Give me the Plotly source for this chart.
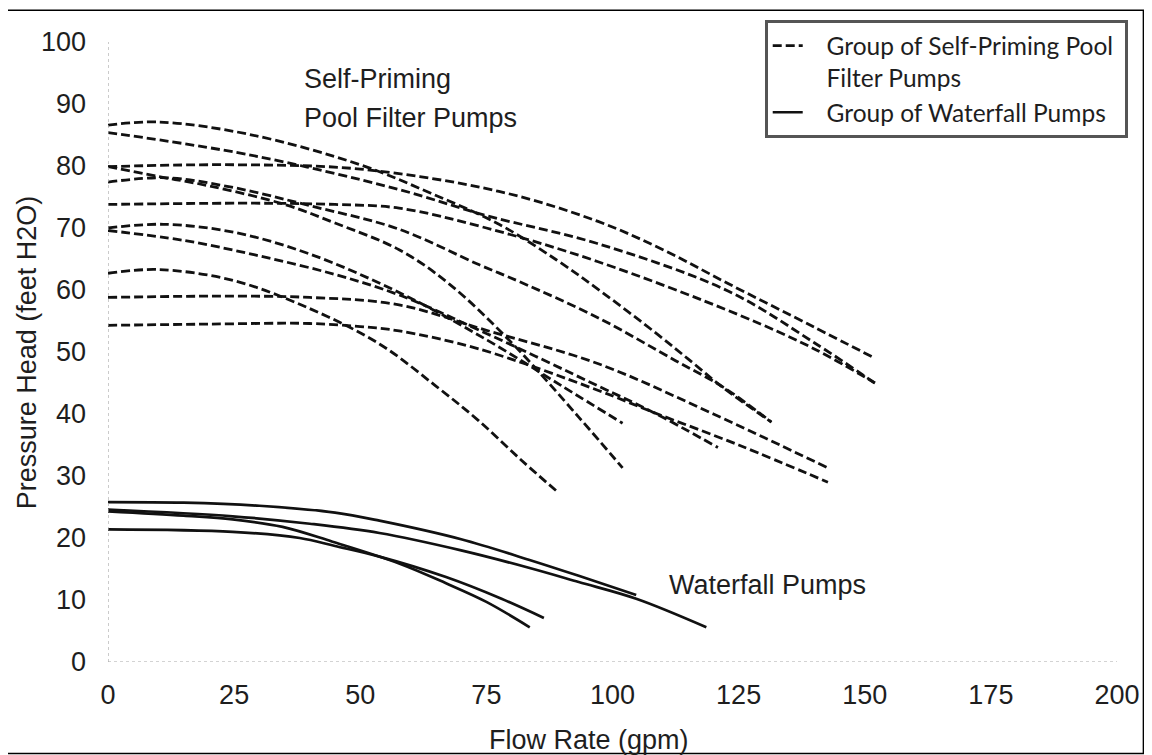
import plotly.graph_objects as go

# ---- Data (flow rate gpm, pressure head ft H2O) ----
x_ticks = [0, 25, 50, 75, 100, 125, 150, 175, 200]
y_ticks = [0, 10, 20, 30, 40, 50, 60, 70, 80, 90, 100]

# Self-priming pool filter pumps (dashed)
sp1_q = [0, 10, 28, 50, 64, 77.5, 89, 98, 109, 116, 122, 131.5]
sp1_h = [86.6, 87.1, 85.1, 80.2, 75.6, 70.6, 64.8, 59.6, 52.8, 48.2, 44.2, 38.7]
sp2_q = [0, 25, 50, 77.5, 97, 110, 123, 140, 152]
sp2_h = [79.9, 80.2, 79.5, 75.9, 71.1, 66.5, 61, 54, 49]
sp3_q = [0, 28, 57.7, 75, 97, 123, 140, 152]
sp3_h = [85.4, 81.8, 76.2, 72, 67.5, 59.8, 51.5, 45]
sp4_q = [0, 28, 45, 57.7, 75, 97, 125, 140, 152]
sp4_h = [73.8, 74, 73.8, 73.2, 70, 64.6, 56, 50.5, 45]
sp5_q = [0, 11.6, 25, 40, 57.7, 73.5, 81.4, 97.2, 112.5, 122, 131.5]
sp5_h = [77.4, 78.1, 76.5, 73.6, 69.8, 64.1, 61.4, 55.5, 48.6, 44.3, 38.7]
sp6_q = [0, 10, 20, 35, 45, 57.7, 67.6, 80, 93.3, 102]
sp6_h = [79.9, 78.3, 76.8, 73.8, 70.8, 66.5, 61.0, 51.5, 39.5, 31.3]
sp7_q = [0, 11, 25, 40, 57.7, 75, 90, 102]
sp7_h = [70.0, 70.6, 69.3, 65.8, 59.6, 52, 44.5, 38.5]
sp8_q = [0, 15, 30, 45, 57.7, 75, 97.2, 108, 120.9]
sp8_h = [69.6, 68, 65.5, 62.5, 59.2, 53, 44.5, 40.3, 34.6]
sp9_q = [0, 10, 25, 40, 53.8, 65, 73.5, 82, 89.3]
sp9_h = [62.7, 63.3, 61.5, 57, 51.3, 44.5, 38.9, 32.5, 27.3]
sp10_q = [0, 20, 40, 57.7, 75, 97.2, 120, 142.7]
sp10_h = [58.8, 59, 58.8, 57.6, 53.5, 48.1, 40, 31.3]
sp11_q = [0, 20, 40, 50, 57.7, 73.5, 97.2, 108, 125, 142.7]
sp11_h = [54.3, 54.5, 54.6, 54.1, 53.4, 50.5, 43.8, 40.3, 35, 29]

# Waterfall pumps (solid)
wf1_q = [0, 15, 30, 45, 53.8, 70, 83.4, 93.3, 104.7]
wf1_h = [25.8, 25.7, 25.2, 24.1, 22.8, 19.8, 16.5, 13.9, 10.8]
wf2_q = [0, 24.7, 40, 53.8, 70, 83.4, 93.3, 104.7, 118.6]
wf2_h = [24.6, 23.5, 22.3, 20.8, 18, 15.2, 12.9, 10.2, 5.6]
wf3_q = [0, 15, 24.7, 34.6, 44.5, 57.7, 67, 75, 83.6]
wf3_h = [24.3, 23.6, 23.0, 21.8, 19.4, 15.9, 12.7, 9.7, 5.6]
wf4_q = [0, 24.7, 38, 45, 53.8, 67, 78, 86.4]
wf4_h = [21.4, 21.0, 20.0, 18.7, 17.0, 13.7, 10.2, 7.1]

sp_curves = [(sp1_q, sp1_h), (sp2_q, sp2_h), (sp3_q, sp3_h), (sp4_q, sp4_h),
             (sp5_q, sp5_h), (sp6_q, sp6_h), (sp7_q, sp7_h), (sp8_q, sp8_h),
             (sp9_q, sp9_h), (sp10_q, sp10_h), (sp11_q, sp11_h)]
wf_curves = [(wf1_q, wf1_h), (wf2_q, wf2_h), (wf3_q, wf3_h), (wf4_q, wf4_h)]

pad = "\u00a0" * 3
sp_name = pad + "Group of Self-Priming Pool\u00a0<br>" + pad + "Filter Pumps"
wf_name = pad + "Group of Waterfall Pumps"

fig = go.Figure()
for i, (q, h) in enumerate(sp_curves):
    fig.add_trace(go.Scatter(
        x=q, y=h, mode="lines", name=sp_name, legendgroup="sp",
        showlegend=(i == 0), hoverinfo="skip",
        line=dict(color="#111111", width=2.8, dash="9px,4px",
                  shape="spline", smoothing=1.0)))
for i, (q, h) in enumerate(wf_curves):
    fig.add_trace(go.Scatter(
        x=q, y=h, mode="lines", name=wf_name, legendgroup="wf",
        showlegend=(i == 0), hoverinfo="skip",
        line=dict(color="#111111", width=2.7, shape="spline", smoothing=1.0)))

# The page body adds an 8 px offset; positions below are given in
# reference-image pixels and converted to figure coordinates.
OFF = 8
W, H = 1152 - OFF, 755 - OFF
L = 108 - OFF
T = 38 - OFF
R = W - (1120.5 - OFF)
B = H - (662 - OFF)
pw, ph = W - L - R, H - T - B


def px(xp):
    return (xp - OFF - L) / pw


def py(yp):
    return (H - B - (yp - OFF)) / ph


font_main = "Liberation Sans, Arial, sans-serif"
txt_col = "#1e1e1e"
fs = 27

fig.update_layout(
    width=W, height=H,
    margin=dict(l=L, r=R, t=T, b=B, pad=0),
    paper_bgcolor="white", plot_bgcolor="white",
    font=dict(family=font_main, size=fs, color=txt_col),
    showlegend=True,
    legend=dict(
        x=px(767), y=py(16), xanchor="left", yanchor="top",
        bgcolor="white", bordercolor="#555555", borderwidth=3,
        font=dict(family="Lato, Open Sans, sans-serif", size=24.5, color=txt_col),
        itemwidth=30, valign="top", tracegroupgap=0, traceorder="normal"),
    xaxis=dict(range=[0, 200], tickvals=x_ticks, ticktext=[str(v) for v in x_ticks],
               showgrid=False, zeroline=False, showline=False, ticks="",
               tickfont=dict(size=fs, color=txt_col, family=font_main),
               ticklabelstandoff=14),
    yaxis=dict(range=[0, 100], tickvals=y_ticks, ticktext=[str(v) for v in y_ticks],
               showgrid=False, zeroline=False, showline=False, ticks="",
               tickfont=dict(size=fs, color=txt_col, family=font_main),
               ticklabelstandoff=21),
    shapes=[
        dict(type="line", xref="x", yref="y", x0=0, x1=200, y0=0, y1=0,
             line=dict(color="#a8a8a8", width=1.2, dash="dot")),
        dict(type="line", xref="x", yref="y", x0=0, x1=0, y0=0, y1=100,
             line=dict(color="#a8a8a8", width=1.2, dash="dot")),
        dict(type="rect", xref="paper", yref="paper",
             x0=px(6), x1=px(1147), y0=py(754), y1=py(6),
             line=dict(color="#000000", width=1.5)),
    ],
    annotations=[
        dict(text="Pressure Head (feet H2O)", xref="paper", yref="paper",
             x=px(27), y=py(350), textangle=-90, showarrow=False,
             xanchor="center", yanchor="middle", font=dict(size=fs)),
        dict(text="Flow Rate (gpm)", xref="paper", yref="paper",
             x=px(591), y=py(740), showarrow=False,
             xanchor="center", yanchor="middle", font=dict(size=fs)),
        dict(text="Self-Priming", xref="paper", yref="paper",
             x=px(303), y=py(75), showarrow=False,
             xanchor="left", yanchor="middle", font=dict(size=fs)),
        dict(text="Pool Filter Pumps", xref="paper", yref="paper",
             x=px(303), y=py(114), showarrow=False,
             xanchor="left", yanchor="middle", font=dict(size=fs)),
        dict(text="Waterfall Pumps", xref="paper", yref="paper",
             x=px(669), y=py(584), showarrow=False,
             xanchor="left", yanchor="middle", font=dict(size=fs)),
    ],
)

fig.write_html("out.html")
